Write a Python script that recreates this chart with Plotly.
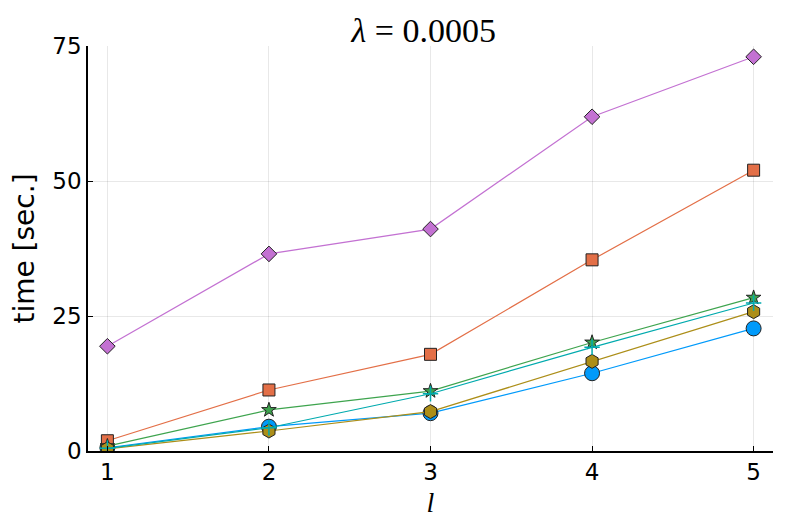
import plotly.graph_objects as go

l_values = [1, 2, 3, 4, 5]
series_blue = [0.6, 4.5, 7.0, 14.4, 22.7]
series_orange = [1.9, 11.3, 17.9, 35.4, 52.0]
series_green = [0.9, 7.6, 11.1, 20.1, 28.4]
series_purple = [19.4, 36.5, 41.1, 61.9, 73.0]
series_olive = [0.4, 3.7, 7.3, 16.6, 25.8]
series_teal = [0.5, 4.3, 10.6, 19.2, 27.4]
y_ticks = [0, 25, 50, 75]

styles = [
    (series_blue, "#009AFA", "circle", 15),
    (series_orange, "#E36F47", "square", 12),
    (series_green, "#3EA44E", "star", 11),
    (series_purple, "#C371D2", "diamond", 12),
    (series_olive, "#AC8E18", "hexagon", 14),
    (series_teal, "#00AAAE", "cross-thin", 11),
]

fig = go.Figure()
for vals, col, sym, sz in styles:
    if sym == "cross-thin":
        mk = dict(symbol=sym, size=sz, color=col, line=dict(color=col, width=1.5))
    else:
        mk = dict(symbol=sym, size=sz, color=col, line=dict(color="#222222", width=1))
    fig.add_trace(go.Scatter(
        x=l_values, y=vals, mode="lines+markers",
        line=dict(color=col, width=1.2), marker=mk, showlegend=False,
    ))

fig.update_layout(
    width=789, height=526,
    margin=dict(l=80, r=24, t=38, b=83),
    paper_bgcolor="white", plot_bgcolor="white",
    title=dict(text="<i>λ</i> = 0.0005", x=0.527, xanchor="center", y=0.958, yanchor="middle",
               font=dict(family="Liberation Serif", size=34, color="black")),
    font=dict(family="DejaVu Sans", color="black"),
)
fig.update_xaxes(
    range=[0.88, 5.12], tickvals=l_values, ticktext=[str(v) for v in l_values],
    showgrid=True, gridcolor="rgba(0,0,0,0.09)", gridwidth=1,
    showline=True, linecolor="black", linewidth=1.5,
    ticks="inside", ticklen=5, tickcolor="black",
    tickfont=dict(size=23), zeroline=False,
    title=dict(text="<i>l</i>", font=dict(family="Liberation Serif", size=28), standoff=8),
)
fig.update_yaxes(
    range=[0, 75], tickvals=y_ticks, ticktext=[str(v) for v in y_ticks],
    showgrid=True, gridcolor="rgba(0,0,0,0.09)", gridwidth=1,
    showline=True, linecolor="black", linewidth=1.5,
    ticks="inside", ticklen=5, tickcolor="black",
    tickfont=dict(size=23), zeroline=False,
    title=dict(text="time [sec.]", font=dict(size=28), standoff=12),
)

fig.write_html("out.html")
